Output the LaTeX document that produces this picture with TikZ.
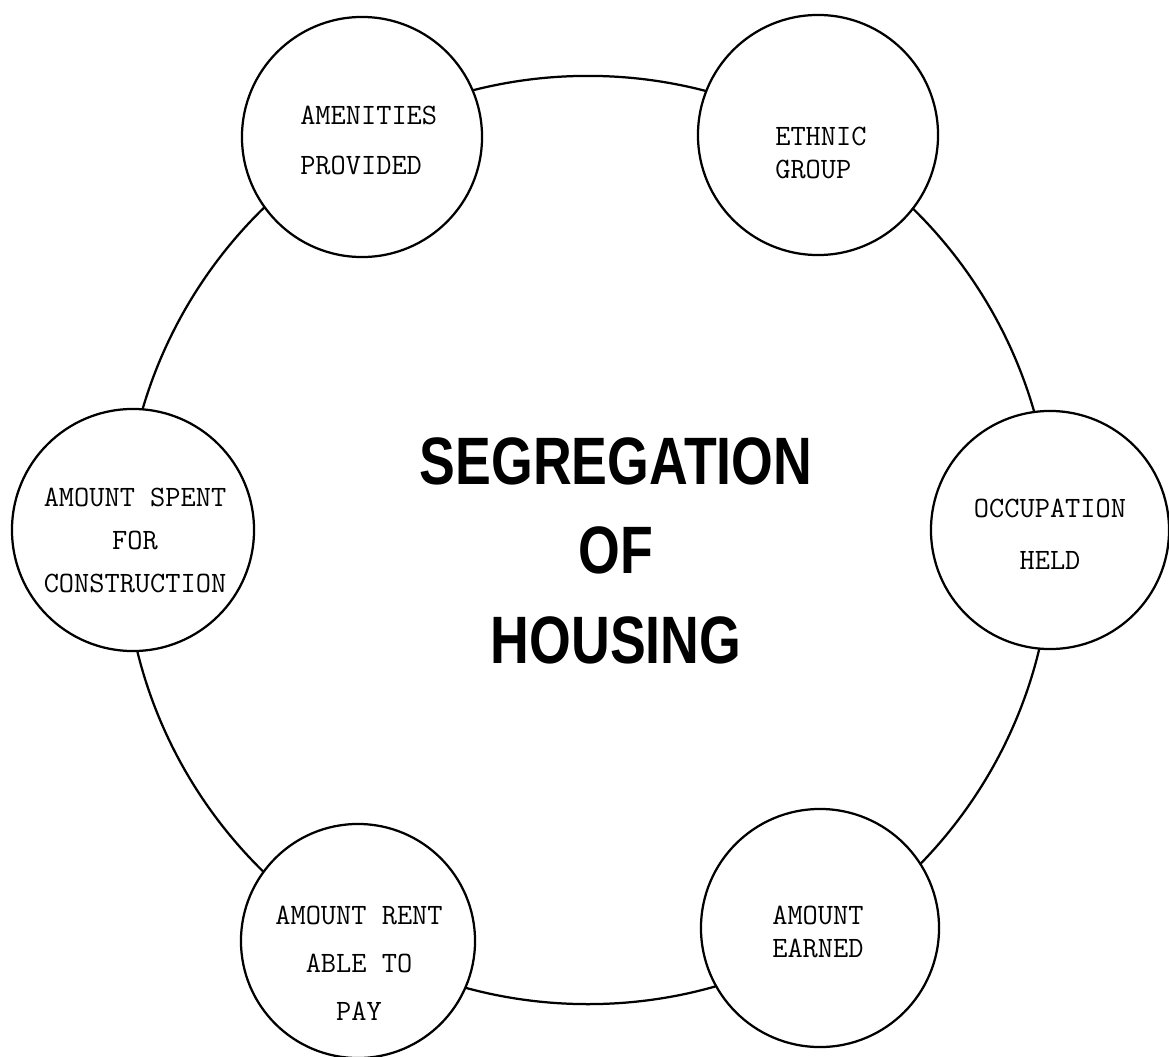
\documentclass[tikz,border=0pt]{standalone}
\usepackage{fontspec}
\usepackage{graphicx}
\newfontfamily\titlefont{Liberation Sans}
\begin{document}
\begin{tikzpicture}[x=0.025cm, y=-0.025cm,
  ring/.style={circle, draw, line width=1.6pt, inner sep=0pt},
  bubble/.style={circle, draw, line width=1.6pt, fill=white, inner sep=0pt},
  lbl/.style={font=\ttfamily\fontsize{21}{#1}\selectfont, inner sep=0pt},
  ttl/.style={font=\titlefont\bfseries\fontsize{47.7}{63.7}\selectfont, inner sep=0pt, align=center}]
\useasboundingbox[fill=white] (0,0) rectangle (1169,1057);
% central ring
\node[ring, minimum size=23.2cm] (hub) at (588,540) {};
% satellite circles
\node[bubble, minimum size=6cm]    (amen) at (362,137) {};
\node[bubble, minimum size=6cm]    (ethn) at (818,135) {};
\node[bubble, minimum size=5.95cm] (occu) at (1050,530) {};
\node[bubble, minimum size=5.95cm] (earn) at (820,928) {};
\node[bubble, minimum size=5.85cm] (rent) at (358,941) {};
\node[bubble, minimum size=6.05cm] (spen) at (133,530) {};
% labels
\node[lbl=35.6, align=left, anchor=west] (amen-t) at (300,140) {AMENITIES\\PROVIDED};
\node[lbl=22.8, align=left, anchor=west] (ethn-t) at (775,153) {ETHNIC\\GROUP};
\node[lbl=37, align=center] (occu-t) at (1050,534) {OCCUPATION\\HELD};
\node[lbl=23.5, align=left, anchor=west] (earn-t) at (772,931.5) {AMOUNT\\EARNED};
\node[lbl=34.1, align=center] (rent-t) at (359,963) {AMOUNT RENT\\ABLE TO\\PAY};
\node[lbl=30.6, align=center] (spen-t) at (135,540) {AMOUNT SPENT\\FOR\\CONSTRUCTION};
% title
\node[ttl] (title) at (616,550.5) {\scalebox{0.8}[1]{SEGREGATION}\\\scalebox{0.8}[1]{OF}\\\scalebox{0.8}[1]{HOUSING}};
\end{tikzpicture}
\end{document}
